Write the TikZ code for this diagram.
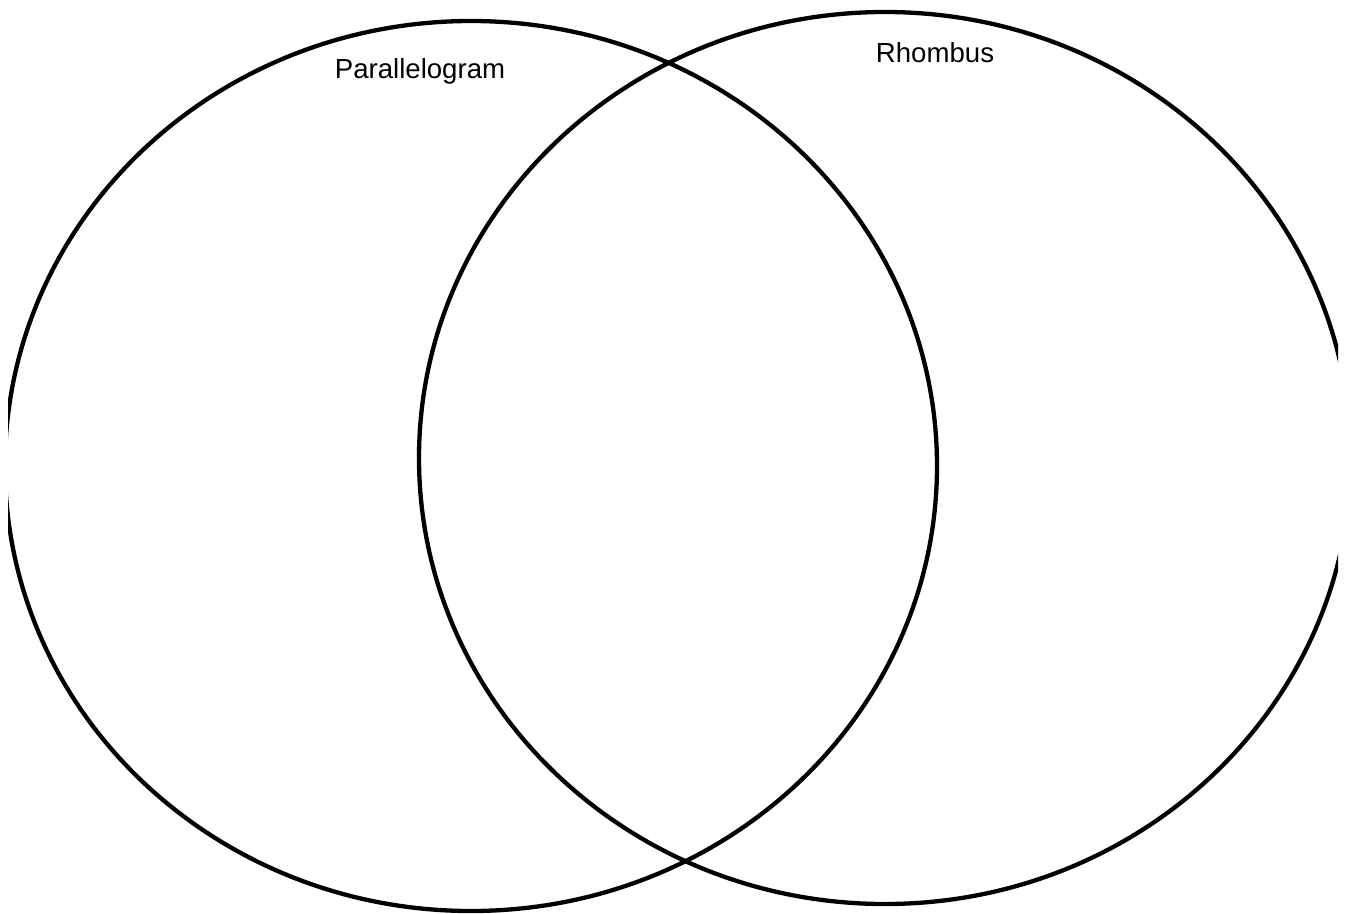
\documentclass[tikz,border=0pt]{standalone}
\usepackage{fontspec}
\setmainfont{Liberation Sans}
\begin{document}
\begin{tikzpicture}[x=1pt,y=-1pt,
  ring/.style={draw=black,line width=4.3pt},
  lbl/.style={font=\fontsize{27.6}{33}\selectfont,anchor=base,inner sep=0pt}]
\useasboundingbox (0,0) rectangle (1349,913);
\begin{scope}
\clip (8,0) rectangle (1338,913);
\draw[ring] (471,466) ellipse [x radius=466, y radius=445];
\draw[ring] (885,458) ellipse [x radius=466, y radius=446];
\end{scope}
\node[lbl] (para) at (420,78) {Parallelogram};
\node[lbl] (rhom) at (935,62) {Rhombus};
\end{tikzpicture}
\end{document}
